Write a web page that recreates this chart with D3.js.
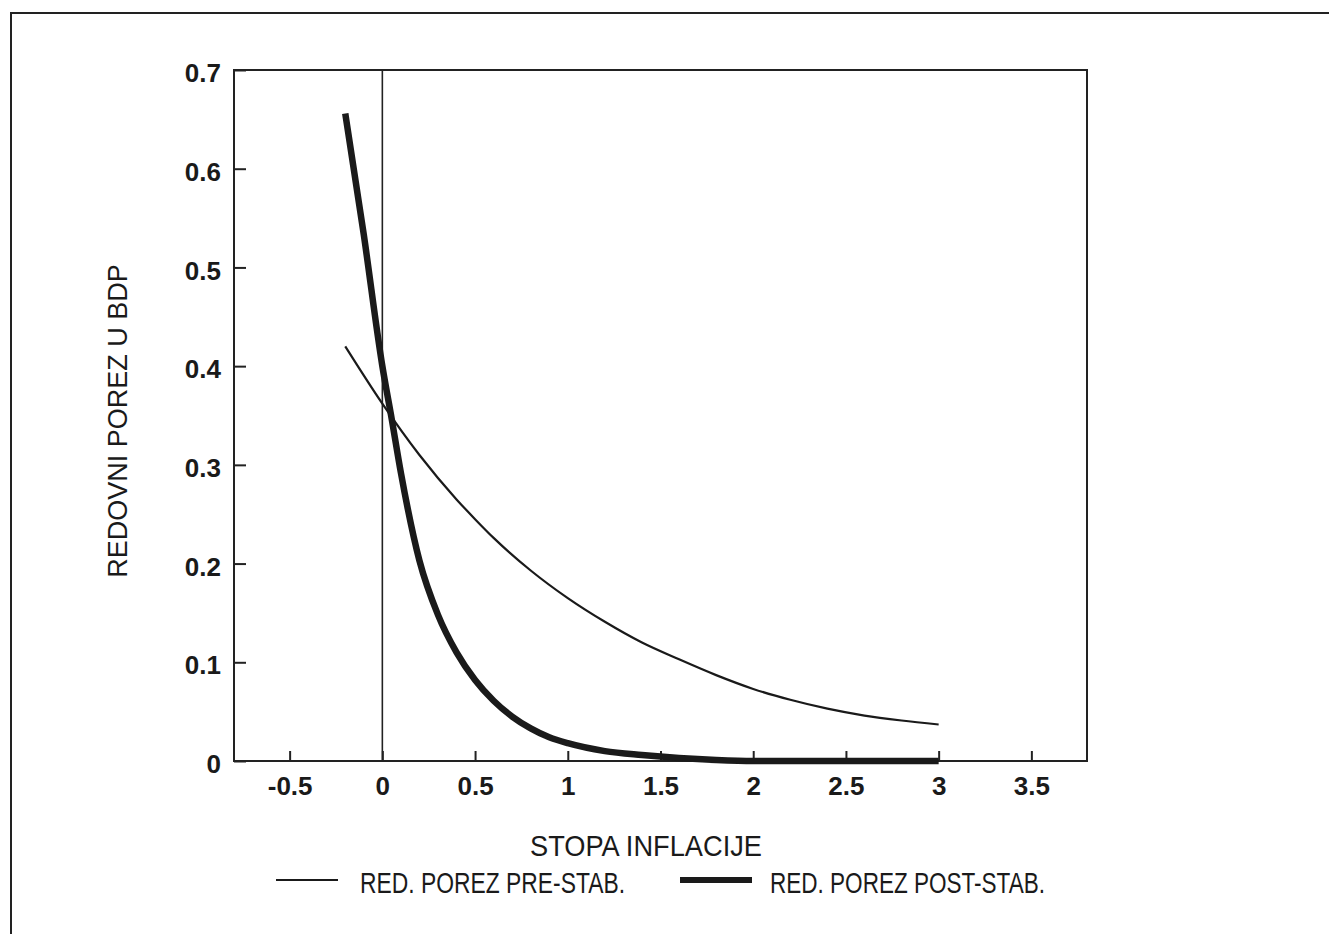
<!DOCTYPE html>
<html>
<head>
<meta charset="utf-8">
<script src="https://cdn.jsdelivr.net/npm/d3@7"></script>
<style>
  body { margin: 0; background: #fff; }
  svg { display: block; }
  text { font-family: "Liberation Sans", Arial, sans-serif; fill: #1a1a1a; }
</style>
</head>
<body>
<svg id="chart" width="1329" height="934"></svg>
<script>
// values
var xTicks = [-0.5, 0, 0.5, 1, 1.5, 2, 2.5, 3, 3.5];
var yTicks = [0, 0.1, 0.2, 0.3, 0.4, 0.5, 0.6, 0.7];

// RED. POREZ PRE-STAB. (thin)
var preX = [-0.2, 0, 0.2, 0.4, 0.5, 0.6, 0.8, 1.0, 1.2, 1.4, 1.6, 1.8, 2.0, 2.2, 2.4, 2.6, 2.8, 3.0];
var preY = [0.42, 0.362, 0.31, 0.265, 0.245, 0.226, 0.193, 0.165, 0.141, 0.12, 0.103, 0.087, 0.073, 0.062, 0.053, 0.046, 0.041, 0.037];

// RED. POREZ POST-STAB. (thick)
var postX = [-0.2, -0.1, 0, 0.05, 0.1, 0.2, 0.3, 0.4, 0.5, 0.6, 0.7, 0.8, 0.9, 1.0, 1.2, 1.4, 1.6, 1.8, 2.0, 2.5, 3.0];
var postY = [0.656, 0.533, 0.40, 0.347, 0.292, 0.203, 0.148, 0.11, 0.082, 0.061, 0.045, 0.033, 0.024, 0.018, 0.01, 0.006, 0.003, 0.001, 0, 0, 0];

var legendNames = ["RED. POREZ PRE-STAB.", "RED. POREZ POST-STAB."];

var svg = d3.select("#chart");

// outer frame (runs off the right and bottom of the page)
svg.append("rect")
  .attr("x", 11).attr("y", 13)
  .attr("width", 1400).attr("height", 1000)
  .attr("fill", "none").attr("stroke", "#222").attr("stroke-width", 2);

// plot box edges (note: "top" is reserved on window)
var pL = 234, pT = 70, pR = 1087, pB = 761;

var x = d3.scaleLinear().domain([-0.8, 3.8]).range([pL, pR]);
var y = d3.scaleLinear().domain([0, 0.7]).range([pB, pT]);

var fmt = function(d) { return String(d); };

// x axis, ticks pointing up into the plot
var gx = svg.append("g")
  .attr("transform", "translate(0," + pB + ")")
  .call(d3.axisBottom(x).tickValues(xTicks).tickSize(-10).tickPadding(16).tickFormat(fmt));
gx.select(".domain").remove();
gx.selectAll("line").attr("stroke", "#222").attr("stroke-width", 2);
gx.selectAll("text").attr("font-size", 26).attr("font-weight", "bold")
  .attr("fill", "#1a1a1a").attr("font-family", null);

// y axis, ticks pointing right into the plot
var gy = svg.append("g")
  .attr("transform", "translate(" + pL + ",0)")
  .call(d3.axisLeft(y).tickValues(yTicks).tickSize(-12).tickPadding(13).tickFormat(fmt));
gy.select(".domain").remove();
gy.selectAll("line").attr("stroke", "#222").attr("stroke-width", 2);
gy.selectAll("text").attr("font-size", 26).attr("font-weight", "bold")
  .attr("fill", "#1a1a1a").attr("font-family", null).attr("dy", "0.45em");

// zero line
svg.append("line")
  .attr("x1", x(0)).attr("x2", x(0))
  .attr("y1", pT).attr("y2", pB)
  .attr("stroke", "#222").attr("stroke-width", 1.6);

// plot box
svg.append("rect")
  .attr("x", pL).attr("y", pT)
  .attr("width", pR - pL).attr("height", pB - pT)
  .attr("fill", "none").attr("stroke", "#222").attr("stroke-width", 2);

var line = d3.line()
  .x(function(d) { return x(d[0]); })
  .y(function(d) { return y(d[1]); })
  .curve(d3.curveMonotoneX);

svg.append("path")
  .datum(d3.zip(preX, preY))
  .attr("d", line)
  .attr("fill", "none").attr("stroke", "#1a1a1a").attr("stroke-width", 2.2);

svg.append("path")
  .datum(d3.zip(postX, postY))
  .attr("d", line)
  .attr("fill", "none").attr("stroke", "#1a1a1a").attr("stroke-width", 6.5)
  .attr("stroke-linejoin", "round");

// axis titles
svg.append("text")
  .attr("transform", "translate(127,421) rotate(-90)")
  .attr("text-anchor", "middle")
  .attr("font-size", 27)
  .text("REDOVNI POREZ U BDP");

svg.append("text")
  .attr("x", 530).attr("y", 856)
  .attr("font-size", 29)
  .attr("textLength", 232).attr("lengthAdjust", "spacingAndGlyphs")
  .text("STOPA INFLACIJE");

// legend
svg.append("line")
  .attr("x1", 276).attr("x2", 338).attr("y1", 880).attr("y2", 880)
  .attr("stroke", "#1a1a1a").attr("stroke-width", 2.2);
svg.append("text")
  .attr("x", 360).attr("y", 893)
  .attr("font-size", 30)
  .attr("textLength", 265).attr("lengthAdjust", "spacingAndGlyphs")
  .text(legendNames[0]);

svg.append("line")
  .attr("x1", 680).attr("x2", 752).attr("y1", 880).attr("y2", 880)
  .attr("stroke", "#1a1a1a").attr("stroke-width", 6);
svg.append("text")
  .attr("x", 770).attr("y", 893)
  .attr("font-size", 30)
  .attr("textLength", 275).attr("lengthAdjust", "spacingAndGlyphs")
  .text(legendNames[1]);
</script>
</body>
</html>
